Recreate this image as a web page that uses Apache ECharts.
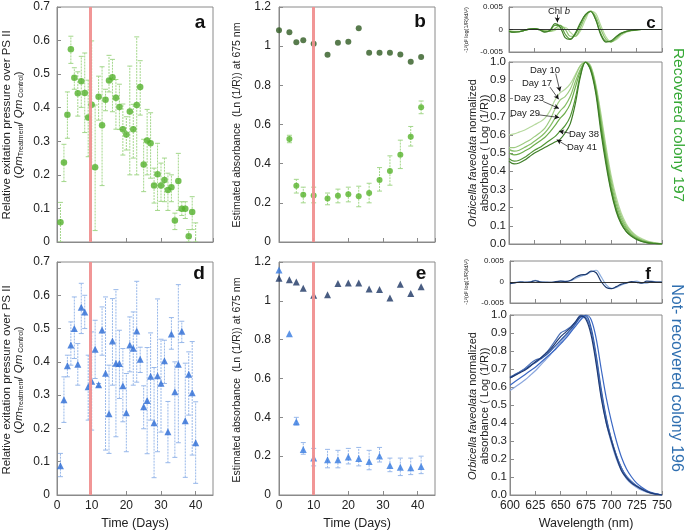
<!DOCTYPE html>
<html><head><meta charset="utf-8">
<script src="https://cdn.jsdelivr.net/npm/echarts@6/dist/echarts.min.js"></script>
<style>html,body{margin:0;padding:0;background:#fff}#c{width:685px;height:531px}</style>
</head><body><div id="c"></div>
<script>
// ---------- DATA ----------
var aDays = [1,2,3,4,5,6,7,8,9,10,11,12,13,14,15,16,17,18,19,20,21,22,23,24,25,26,27,28,29,30,31,32,33,34,35,36,37,38,39,40];
var aMean = [0.059,0.237,0.379,0.574,0.489,0.443,0.479,0.444,0.371,0.409,0.223,0.433,0.348,0.424,0.481,0.491,0.43,0.402,0.336,0.32,0.389,0.336,0.408,0.462,0.231,0.302,0.294,0.168,0.202,0.168,0.185,0.155,0.163,0.064,0.182,0.099,0.099,0.017,0.089,null];
var aHigh = [0.118,0.291,0.447,0.613,0.519,0.507,0.553,0.563,0.482,0.599,0.408,0.494,0.522,0.455,0.556,0.544,0.484,0.47,0.411,0.373,0.524,0.41,0.611,0.54,0.306,0.395,0.385,0.22,0.294,0.235,0.25,0.205,0.2,0.086,0.264,0.12,0.12,0.037,0.135,0.057];
var aLow  = [0.0,0.18,0.309,0.532,0.455,0.375,0.401,0.326,0.254,0.217,0.034,0.363,0.168,0.391,0.447,0.388,0.336,0.335,0.259,0.274,0.2,0.25,0.2,0.378,0.15,0.2,0.19,0.116,0.094,0.121,0.12,0.094,0.12,0.037,0.094,0.079,0.07,0.0,0.037,0.0];

var dDays = aDays;
var dMean = [0.088,0.286,0.388,0.451,0.5,0.393,0.564,0.55,0.325,0.342,0.438,0.331,0.496,0.366,0.244,0.463,0.396,0.395,0.328,0.247,0.451,0.441,0.493,0.408,0.265,0.284,0.357,0.217,0.358,0.336,0.403,0.19,0.484,0.31,0.393,0.492,0.223,0.363,0.307,0.157];
var dHigh = [0.125,0.355,0.42,0.52,0.595,0.455,0.636,0.6,0.42,0.49,0.525,0.335,0.565,0.595,0.39,0.59,0.617,0.495,0.44,0.365,0.535,0.55,0.642,0.444,0.328,0.443,0.487,0.383,0.589,0.468,0.465,0.281,0.533,0.4,0.632,0.522,0.396,0.43,0.461,0.28];
var dLow  = [0.055,0.218,0.355,0.39,0.41,0.33,0.485,0.5,0.225,0.195,0.35,0.325,0.42,0.135,0.125,0.33,0.175,0.29,0.22,0.13,0.37,0.33,0.339,0.368,0.199,0.124,0.225,0.052,0.13,0.189,0.335,0.097,0.438,0.113,0.157,0.458,0.053,0.24,0.12,0.035];

var bDays = [0,3,5,7,10,14,17,20,23,26,29,32,35,38,41];
var bControl = [1.081,1.071,1.02,1.03,1.012,0.956,1.017,1.023,1.091,0.966,0.967,0.967,0.957,0.921,0.945];
var bTreatDays = [3,5,7,10,14,17,20,23,26,29,32,35,38,41];
var bTreat = [0.526,0.287,0.241,0.238,0.222,0.236,0.244,0.233,0.25,0.317,0.362,0.446,0.538,0.688];
var bTreatHigh = [0.545,0.32,0.28,0.28,0.25,0.27,0.28,0.285,0.3,0.38,0.44,0.52,0.59,0.72];
var bTreatLow = [0.507,0.25,0.2,0.2,0.19,0.2,0.205,0.18,0.2,0.26,0.29,0.375,0.49,0.655];

var eDays = [0,3,5,7,10,14,17,20,23,26,29,32,35,38,41];
var eControl = [1.116,1.109,1.097,1.065,1.029,1.031,1.089,1.092,1.092,1.061,1.058,1.015,1.085,1.038,1.072];
var eTreat = [1.159,0.831,0.377,0.234,0.191,0.181,0.181,0.196,0.188,0.172,0.201,0.152,0.143,0.14,0.147];
var eTreatHigh = [null,null,0.4,0.27,0.24,0.235,0.23,0.24,0.245,0.23,0.245,0.19,0.19,0.19,0.2];
var eTreatLow = [null,null,0.36,0.21,0.15,0.14,0.14,0.16,0.15,0.13,0.17,0.12,0.1,0.105,0.11];

var heatDay = 9.6, heatDay2 = 10;

var wl = [600,605,610,615,620,625,630,635,640,645,650,655,660,665,670,675,680,685,690,695,700,705,710,715,720,725,730,735,740,745,750];
var cDay10 = [0.60,0.605,0.615,0.625,0.64,0.655,0.67,0.69,0.73,0.79,0.83,0.85,0.88,0.93,0.98,1.0,0.98,0.88,0.72,0.54,0.38,0.26,0.17,0.11,0.07,0.045,0.03,0.018,0.01,0.005,0.002];
var cDay17 = [0.53,0.53,0.54,0.555,0.57,0.59,0.61,0.635,0.68,0.74,0.79,0.81,0.85,0.92,0.98,1.0,0.975,0.87,0.70,0.52,0.36,0.24,0.155,0.10,0.065,0.04,0.025,0.015,0.008,0.004,0.001];
var cDay23 = [0.52,0.51,0.515,0.53,0.545,0.565,0.585,0.61,0.645,0.69,0.73,0.76,0.81,0.89,0.96,1.0,0.97,0.86,0.68,0.50,0.34,0.22,0.14,0.09,0.055,0.035,0.02,0.012,0.006,0.003,0.001];
var cDay29 = [0.50,0.49,0.495,0.51,0.525,0.545,0.565,0.585,0.615,0.65,0.69,0.72,0.77,0.86,0.95,1.0,0.965,0.85,0.66,0.48,0.32,0.20,0.125,0.08,0.05,0.03,0.018,0.01,0.005,0.002,0.0];
var cDay38 = [0.47,0.455,0.46,0.475,0.495,0.515,0.53,0.55,0.57,0.59,0.62,0.65,0.70,0.80,0.93,1.0,0.96,0.845,0.645,0.46,0.30,0.19,0.115,0.07,0.045,0.027,0.015,0.008,0.004,0.002,0.0];
var cDay41 = [0.455,0.44,0.445,0.46,0.48,0.50,0.515,0.53,0.545,0.56,0.575,0.61,0.66,0.77,0.92,1.0,0.955,0.83,0.62,0.44,0.29,0.18,0.11,0.068,0.042,0.025,0.014,0.008,0.004,0.002,0.0];

var cDer10 = [-0.0003,-0.0004,-0.0004,-0.0002,0,0.0001,0,-0.0002,-0.0004,-0.0002,0.0004,0.0005,-0.0006,-0.0015,-0.0003,0.0022,0.0041,0.0036,0.0009,-0.0016,-0.0027,-0.0023,-0.0013,-0.0006,-0.0003,-0.0001,0,0,0,0,0];
var cDer23 = [-0.0003,-0.0005,-0.0005,-0.0002,0.0001,0.0002,0,-0.0003,-0.0004,0.0002,0.0009,0.0001,-0.0015,-0.0015,0.0004,0.0029,0.0041,0.0029,0.0001,-0.0022,-0.0028,-0.002,-0.001,-0.0005,-0.0002,-0.0001,0,0,0,0,0];
var cDer38 = [-0.0004,-0.0006,-0.0005,-0.0002,0.0001,0.0002,0,-0.0005,-0.0003,0.0009,0.0009,-0.001,-0.0021,-0.0011,0.0011,0.0033,0.004,0.0022,-0.0009,-0.0026,-0.0027,-0.0017,-0.0009,-0.0004,-0.0002,-0.0001,0,0,0,0,0];
var cDer41 = [-0.0004,-0.0006,-0.0005,-0.0002,0.0001,0.0002,-0.0001,-0.0006,-0.0002,0.0013,0.0006,-0.0018,-0.0022,-0.0008,0.0015,0.0033,0.004,0.0022,-0.0012,-0.0028,-0.0025,-0.0016,-0.0008,-0.0004,-0.0002,-0.0001,0,0,0,0,0];

var fS1 = [0.65,0.665,0.68,0.695,0.715,0.74,0.76,0.785,0.81,0.845,0.88,0.905,0.93,0.965,0.995,0.975,0.89,0.73,0.54,0.40,0.30,0.21,0.135,0.095,0.066,0.048,0.032,0.019,0.009,0.004,0.0];
var fS2 = [0.655,0.67,0.685,0.7,0.72,0.735,0.755,0.775,0.8,0.83,0.86,0.89,0.92,0.955,0.99,0.995,0.93,0.78,0.59,0.43,0.31,0.22,0.15,0.1,0.07,0.05,0.034,0.021,0.011,0.005,0.0];
var fS3 = [0.61,0.63,0.65,0.67,0.69,0.71,0.735,0.76,0.785,0.81,0.84,0.87,0.905,0.94,0.975,1.0,0.975,0.87,0.7,0.54,0.41,0.3,0.21,0.145,0.1,0.066,0.043,0.025,0.013,0.006,0.0];
var fS4 = [0.58,0.6,0.62,0.64,0.665,0.69,0.72,0.75,0.78,0.815,0.85,0.88,0.91,0.95,0.985,0.985,0.91,0.75,0.55,0.4,0.29,0.2,0.135,0.09,0.062,0.042,0.027,0.016,0.008,0.003,0.0];
var fS5 = [0.65,0.665,0.685,0.705,0.73,0.75,0.76,0.785,0.82,0.86,0.9,0.915,0.935,0.965,1.0,0.985,0.91,0.76,0.57,0.42,0.31,0.22,0.15,0.105,0.075,0.052,0.035,0.02,0.01,0.004,0.0];
var fDer1 = [-0.0004,-0.0002,0,-0.0001,0,0.0003,0,-0.0001,-0.0001,0.0001,0.0002,0.0001,0.0004,0.0012,0.0017,0.0018,0.0026,0.0022,0.0001,-0.0013,-0.0016,-0.0011,-0.0005,-0.0002,0.0001,-0.0001,-0.0003,0.0002,0.0001,0,0];
var fDer2 = [-0.0003,-0.0001,0.0001,0,0.0001,0.0004,0.0001,0,-0.0001,0,0.0002,0.0002,0.0003,0.0009,0.0014,0.0018,0.0024,0.0028,0.0012,-0.0007,-0.0015,-0.0013,-0.0007,-0.0003,0,0.0002,-0.0002,-0.0003,0.0002,0,0];

var dayLabels = ['Day 10','Day 17','Day 23','Day 29','Day 38','Day 41'];
// annotation arrows [fromNm, fromVal, toNm, toVal]
var dayArrows = [[645.8,0.936,650,0.838],[640.2,0.862,648.7,0.795],[633.6,0.783,649,0.745],[628.7,0.71,649.3,0.695],[659.8,0.609,649,0.62],[658.1,0.535,646.8,0.573]];

// ---------- CHART ----------
var FONT = '"Liberation Sans", Arial, Helvetica, sans-serif';
var AX = '#8a8a8a';
var chart = echarts.init(document.getElementById('c'), null, {renderer:'canvas', width:685, height:531});

function zip(xs, ys){ var r=[]; for(var i=0;i<xs.length;i++){ if(ys[i]!==null && ys[i]!==undefined) r.push([xs[i], ys[i]]);} return r; }
function zip3(xs, lo, hi){ var r=[]; for(var i=0;i<xs.length;i++){ if(lo[i]!==null && hi[i]!==null) r.push([xs[i], lo[i], hi[i]]);} return r; }

function grid(l,t,w,h){ return {left:l,top:t,width:w,height:h,show:true,borderColor:AX,borderWidth:1,backgroundColor:'transparent'}; }
var grids = [grid(57,7,156,235),grid(279,7,156,235),grid(509,7,153,45),grid(509,62,153,182),
             grid(57,262,156,235),grid(279,262,156,235),grid(510,261,152,42),grid(510,315,152,182)];

function xAx(g,min,max,interval,label,name){
  return {type:'value',gridIndex:g,min:min,max:max,interval:interval,
    axisLine:{show:true,onZero:false,lineStyle:{color:AX}},
    axisTick:{show:true,inside:true,length:4,lineStyle:{color:AX}},
    splitLine:{show:false},
    axisLabel:{show:label,color:'#222',fontSize:12,fontFamily:FONT,margin:5,showMaxLabel:(max%interval===0),showMinLabel:true},
    name:name||'',nameLocation:'middle',nameGap:22,nameTextStyle:{color:'#222',fontSize:12.5,fontFamily:FONT}};
}
function yAx(g,min,max,interval,fs,margin,fmt){
  var lab = {color:'#222',fontSize:fs,fontFamily:FONT,margin:margin};
  if(fmt) lab.formatter = fmt;
  return {type:'value',gridIndex:g,min:min,max:max,interval:interval,
    axisLine:{show:true,onZero:false,lineStyle:{color:AX}},
    axisTick:{show:true,inside:true,length:4,lineStyle:{color:AX}},
    splitLine:{show:false}, axisLabel:lab};
}
var f1 = function(v){return v.toFixed(1);};
var fd = function(v){return Math.abs(v)<1e-9?'0':v.toFixed(3);};

function errSeries(xi, data, color){
  return {type:'custom', xAxisIndex:xi, yAxisIndex:xi, clip:true, silent:true, z:1,
    data:data,
    renderItem:function(params, api){
      var x=api.value(0), lo=api.coord([x,api.value(1)]), hi=api.coord([x,api.value(2)]), w=2.5;
      return {type:'group', children:[
        {type:'line', shape:{x1:lo[0],y1:lo[1],x2:hi[0],y2:hi[1]}, style:{stroke:color,lineWidth:1,lineDash:[2,1]}},
        {type:'line', shape:{x1:lo[0]-w,y1:lo[1],x2:lo[0]+w,y2:lo[1]}, style:{stroke:color,lineWidth:1}},
        {type:'line', shape:{x1:hi[0]-w,y1:hi[1],x2:hi[0]+w,y2:hi[1]}, style:{stroke:color,lineWidth:1}}
      ]};
    }};
}
function redLine(x){ return {silent:true,symbol:'none',label:{show:false},animation:false,
  lineStyle:{color:'#f09090',width:3,type:'solid',opacity:0.95},data:[{xAxis:x}]}; }
function zeroLine(){ return {silent:true,symbol:'none',label:{show:false},animation:false,
  lineStyle:{color:'#222',width:0.9,type:'solid'},data:[{yAxis:0}]}; }
function spec(xi, ys, color, extra){
  var s = {type:'line', xAxisIndex:xi, yAxisIndex:xi, data:zip(wl, ys), showSymbol:false, smooth:0.35,
    lineStyle:{color:color,width:1.2}, itemStyle:{color:color}, silent:true, z:2};
  if(extra) for(var k in extra) s[k]=extra[k];
  return s;
}

var GREEN_ERR = '#a3d78a', BLUE_ERR = '#98b8ea';
var series = [
  // a
  errSeries(0, zip3(aDays,aLow,aHigh), GREEN_ERR),
  {type:'scatter', xAxisIndex:0, yAxisIndex:0, data:zip(aDays,aMean), symbol:'circle', symbolSize:6.5,
    itemStyle:{color:'#52b02a'}, z:3, markLine:redLine(heatDay)},
  // b
  errSeries(1, zip3(bTreatDays,bTreatLow,bTreatHigh), GREEN_ERR),
  {type:'scatter', xAxisIndex:1, yAxisIndex:1, data:zip(bDays,bControl), symbol:'circle', symbolSize:6, itemStyle:{color:'#2e5a20'}, z:3, markLine:redLine(heatDay2)},
  {type:'scatter', xAxisIndex:1, yAxisIndex:1, data:zip(bTreatDays,bTreat), symbol:'circle', symbolSize:6, itemStyle:{color:'#56b32b'}, z:3},
  // c derivative
  spec(2, cDer10, '#b6d99e', {markLine:zeroLine()}),
  spec(2, cDer23, '#88bf69'),
  spec(2, cDer38, '#5f9f42'),
  spec(2, cDer41, '#3e7d27', {markLine:{silent:true,animation:false,symbol:['none','arrow'],symbolSize:[4,5],label:{show:false},
     lineStyle:{color:'#111',width:0.8,type:'solid'},data:[[{coord:[647.4,0.0033]},{coord:[647.4,0.0016]}]]}}),
  // c main
  spec(3, cDay10, '#b6d99e'),
  spec(3, cDay17, '#9dcb80'),
  spec(3, cDay23, '#86be67'),
  spec(3, cDay29, '#6dad4c'),
  spec(3, cDay38, '#529636'),
  spec(3, cDay41, '#3e7d27', {markLine:{silent:true,animation:false,symbol:['none','arrow'],symbolSize:[4,5],label:{show:false},
     lineStyle:{color:'#111',width:0.7,type:'solid'},
     data:dayArrows.map(function(a){return [{coord:[a[0],a[1]]},{coord:[a[2],a[3]]}];})}}),
  // d
  errSeries(4, zip3(dDays,dLow,dHigh), BLUE_ERR),
  {type:'scatter', xAxisIndex:4, yAxisIndex:4, data:zip(dDays,dMean), symbol:'triangle', symbolSize:7,
    itemStyle:{color:'#2a6ad4'}, z:3, markLine:redLine(heatDay)},
  // e
  errSeries(5, zip3(eDays,eTreatLow,eTreatHigh), BLUE_ERR),
  {type:'scatter', xAxisIndex:5, yAxisIndex:5, data:zip(eDays,eControl), symbol:'triangle', symbolSize:7, itemStyle:{color:'#1c3563'}, z:3, markLine:redLine(heatDay2)},
  {type:'scatter', xAxisIndex:5, yAxisIndex:5, data:zip(eDays,eTreat), symbol:'triangle', symbolSize:7, itemStyle:{color:'#3479e0'}, z:4},
  // f derivative
  spec(6, fDer2, '#8fb0e0', {markLine:zeroLine()}),
  spec(6, fDer1, '#1d3a6e'),
  // f main
  spec(7, fS4, '#8aa6dd'),
  spec(7, fS3, '#3b68c4'),
  spec(7, fS2, '#2b55a3'),
  spec(7, fS5, '#4a6fb5'),
  spec(7, fS1, '#1f3a73')
];

var RICH = {
  it:{fontStyle:'italic',fontSize:11.5,fontFamily:FONT,fill:'#222',color:'#222'},
  sub:{fontSize:7,fontFamily:FONT,verticalAlign:'bottom',padding:[5,0,0,0],color:'#222',fill:'#222'},
  n:{fontSize:11.5,fontFamily:FONT,color:'#222',fill:'#222'}
};
var RICH2 = {
  it:{fontStyle:'italic',fontSize:11,fontFamily:FONT,color:'#222'},
  n:{fontSize:11,fontFamily:FONT,color:'#222'}
};
function txt(x,y,text,opt){
  var st = {text:text, fill:opt.color||'#222', fontSize:opt.size||11, fontFamily:FONT, fontWeight:opt.weight||'normal',
    align:'center', verticalAlign:'middle', textAlign:'center', textVerticalAlign:'middle'};
  if(opt.rich) st.rich = opt.rich;
  if(opt.lh) st.lineHeight = opt.lh;
  return {type:'text', x:x, y:y, rotation:opt.rot||0, silent:true, z:100, style:st};
}
var yLabA = '{n|Relative exitation pressure over PS II}\n{n|(}{it|Qm}{sub|Treatment}{n|/ }{it|Qm}{sub| Control}{n|)}';
var yLabC = '{it|Orbicella faveolata}{n| normalized}\n{n|absorbance ( Log (1/R))}';
var derLab = '-1²(d² log(1/R)/dλ²)';
var ROT = Math.PI/2;
var graphic = [
  txt(13,125,yLabA,{rot:ROT,rich:RICH,size:11.5,lh:12}),
  txt(13,380,yLabA,{rot:ROT,rich:RICH,size:11.5,lh:12}),
  txt(237,125,'Estimated absorbance  (Ln (1/R)) at 675 nm',{rot:ROT,size:10.5}),
  txt(237,380,'Estimated absorbance  (Ln (1/R)) at 675 nm',{rot:ROT,size:10.5}),
  txt(479,153,yLabC,{rot:ROT,rich:RICH2,size:11,lh:12}),
  txt(479,406,yLabC,{rot:ROT,rich:RICH2,size:11,lh:12}),
  txt(466,30,derLab,{rot:ROT,size:5.5}),
  txt(466,282,derLab,{rot:ROT,size:5.5}),
  txt(200,23,'a',{size:19,weight:'bold',color:'#111'}),
  txt(420,22,'b',{size:19,weight:'bold',color:'#111'}),
  txt(651,23,'c',{size:17,weight:'bold',color:'#111'}),
  txt(199,274,'d',{size:19,weight:'bold',color:'#111'}),
  txt(421,274,'e',{size:19,weight:'bold',color:'#111'}),
  txt(648,274,'f',{size:17,weight:'bold',color:'#111'}),
  txt(559,11,'Chl {i|b}',{size:9.5,rich:{i:{fontStyle:'italic',fontSize:9.5,fontFamily:FONT,color:'#222'}}}),
  txt(545,70,dayLabels[0],{size:9.5}),
  txt(537,83.5,dayLabels[1],{size:9.5}),
  txt(529,98.5,dayLabels[2],{size:9.5}),
  txt(525,113,dayLabels[3],{size:9.5}),
  txt(584,134.5,dayLabels[4],{size:9.5}),
  txt(582,147.5,dayLabels[5],{size:9.5}),
  txt(678,125,'Recovered colony 197',{rot:-ROT,size:15.5,color:'#35a835'}),
  txt(676,378,'Not- recovered colony 196',{rot:-ROT,size:16,color:'#2f6fb0'})
];

chart.setOption({
  animation:false,
  backgroundColor:'#fff',
  grid:grids,
  xAxis:[xAx(0,0,45,10,false), xAx(1,0,45,10,false), xAx(2,600,750,25,false), xAx(3,600,750,25,false),
         xAx(4,0,45,10,true,'Time (Days)'), xAx(5,0,45,10,true,'Time (Days)'), xAx(6,600,750,25,false), xAx(7,600,750,25,true,'Wavelength (nm)')],
  yAxis:[yAx(0,0,0.7,0.1,12,7), yAx(1,0,1.2,0.2,12,8), yAx(2,-0.005,0.005,0.005,8,6,fd), yAx(3,0,1.0,0.1,11.5,3,f1),
         yAx(4,0,0.7,0.1,12,7), yAx(5,0,1.2,0.2,12,8), yAx(6,-0.005,0.005,0.005,8,6,fd), yAx(7,0,1.0,0.1,11.5,3,f1)],
  series:series,
  graphic:graphic
});
</script></body></html>
